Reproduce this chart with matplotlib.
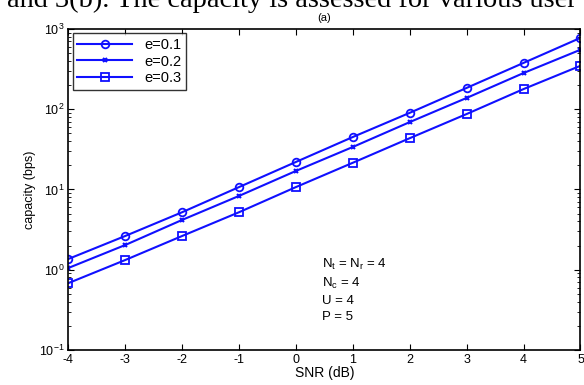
import matplotlib
matplotlib.use("Agg")
import matplotlib.pyplot as plt
from matplotlib.ticker import LogLocator, NullFormatter

# data
snr = [-4, -3, -2, -1, 0, 1, 2, 3, 4, 5]
cap_e01 = [1.36, 2.63, 5.2, 10.7, 22, 45, 90, 184, 377, 773]
cap_e02 = [1.05, 2.03, 4.17, 8.3, 17, 33.8, 69, 138, 282, 550]
cap_e03 = [0.68, 1.32, 2.63, 5.2, 10.7, 21.5, 43.5, 87, 178, 347]
labels = ["e=0.1", "e=0.2", "e=0.3"]

plt.rcParams['font.family'] = ['Liberation Sans', 'DejaVu Sans']
plt.rcParams['axes.unicode_minus'] = False

fig = plt.figure(figsize=(5.84, 3.85), dpi=100)
ax = fig.add_axes([0.117, 0.091, 0.877, 0.834])

blue = "#1010ff"
ax.semilogy(snr, cap_e01, color=blue, lw=1.5, marker='o', ms=5.5, mfc='none', mew=1.3, label=labels[0])
ax.semilogy(snr, cap_e02, color=blue, lw=1.5, marker='x', ms=3.5, mew=1.5, label=labels[1])
ax.semilogy(snr, cap_e03, color=blue, lw=1.5, marker='s', ms=5.5, mfc='none', mew=1.3, label=labels[2])

ax.set_xlim(-4, 5)
ax.set_ylim(0.1, 1000)
ax.set_xticks(snr)
ax.yaxis.set_major_locator(LogLocator(base=10, numticks=10))
ax.yaxis.set_minor_locator(LogLocator(base=10, subs=range(2, 10), numticks=10))
ax.yaxis.set_minor_formatter(NullFormatter())
ax.tick_params(which='both', direction='in', top=True, right=True, labelsize=9)
ax.tick_params(which='major', length=4, pad=3)
ax.tick_params(which='minor', length=2.5)
for s in ax.spines.values():
    s.set_linewidth(1.2)

ax.set_xlabel("SNR (dB)", fontsize=10, labelpad=0)
ax.set_ylabel("capacity (bps)", fontsize=9, labelpad=2)
ax.set_title("(a)", fontsize=8, pad=6)

leg = ax.legend(loc='upper left', fontsize=10.5, frameon=True, fancybox=False,
                edgecolor='black', borderaxespad=0.3, handlelength=3.8,
                labelspacing=0.2, borderpad=0.3)
leg.get_frame().set_linewidth(1.0)

ax.text(0.45, 1.45, "$\\mathregular{N_t}$ = $\\mathregular{N_r}$ = 4\n$\\mathregular{N_c}$ = 4\nU = 4\nP = 5",
        fontsize=9.5, va='top', linespacing=1.4)

# clipped caption text from the paper page
fig.text(0.988, 0.982, "and 3(b). The capacity is assessed for various user",
         family='Liberation Serif', fontsize=20.4, ha='right', va='baseline')

fig.savefig("out.png", dpi=100)
